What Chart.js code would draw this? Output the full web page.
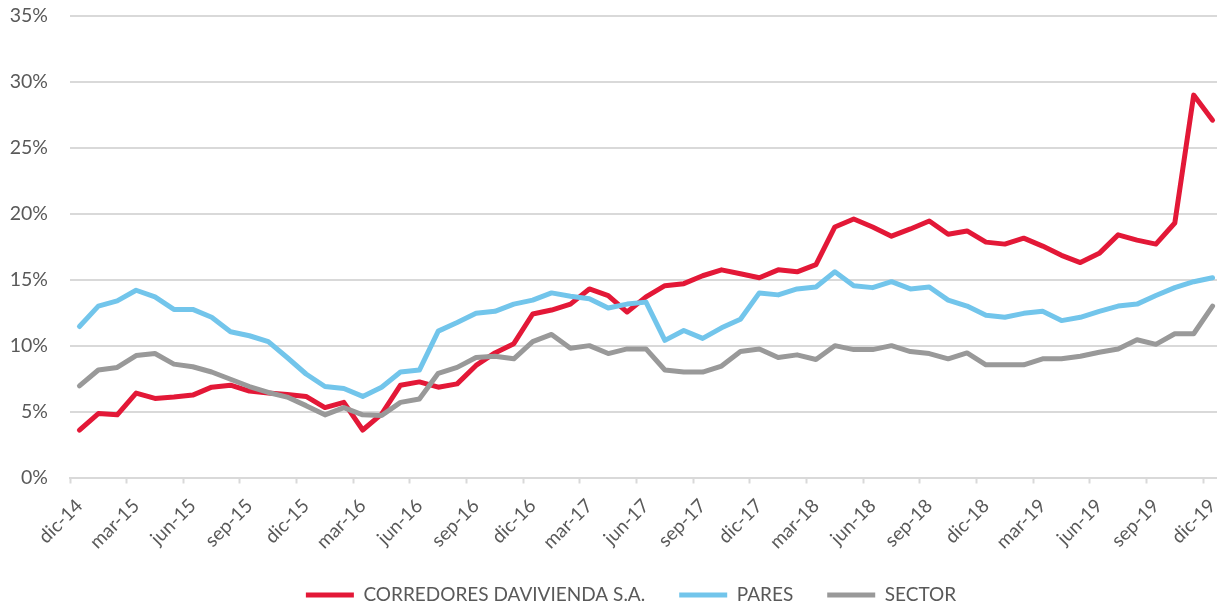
<!DOCTYPE html>
<html>
<head>
<meta charset="utf-8">
<script src="https://cdn.jsdelivr.net/npm/chart.js@4.4.1/dist/chart.umd.min.js"></script>
<style>
  html, body { margin: 0; padding: 0; background: #fff; overflow: hidden; }
  #wrap { position: absolute; left: 0; top: 0; width: 1222px; height: 607px; }
</style>
</head>
<body>
<div id="wrap"><canvas id="chart"></canvas></div>
<script>
// Months (monthly data, dic-14 .. dic-19)
const months = [
  "dic-14",
  "ene-15", "feb-15", "mar-15", "abr-15", "may-15", "jun-15", "jul-15", "ago-15", "sep-15", "oct-15", "nov-15", "dic-15",
  "ene-16", "feb-16", "mar-16", "abr-16", "may-16", "jun-16", "jul-16", "ago-16", "sep-16", "oct-16", "nov-16", "dic-16",
  "ene-17", "feb-17", "mar-17", "abr-17", "may-17", "jun-17", "jul-17", "ago-17", "sep-17", "oct-17", "nov-17", "dic-17",
  "ene-18", "feb-18", "mar-18", "abr-18", "may-18", "jun-18", "jul-18", "ago-18", "sep-18", "oct-18", "nov-18", "dic-18",
  "ene-19", "feb-19", "mar-19", "abr-19", "may-19", "jun-19", "jul-19", "ago-19", "sep-19", "oct-19", "nov-19", "dic-19"
];

// Series values (%)
const corredores = [
  3.6, 4.85, 4.75, 6.4, 6.0, 6.1, 6.25, 6.85, 7.0, 6.55, 6.4, 6.3, 6.15,
  5.3, 5.7, 3.6, 4.8, 7.0, 7.25, 6.85, 7.1, 8.5, 9.45, 10.15, 12.4,
  12.7, 13.15, 14.3, 13.8, 12.55, 13.7, 14.55, 14.7, 15.3, 15.75, 15.45, 15.15,
  15.75, 15.6, 16.15, 19.0, 19.6, 19.0, 18.3, 18.85, 19.45, 18.45, 18.7, 17.85,
  17.7, 18.15, 17.55, 16.85, 16.3, 17.0, 18.4, 18.0, 17.7, 19.3, 29.0, 27.1
];
const pares = [
  11.45, 13.0, 13.4, 14.2, 13.7, 12.75, 12.75, 12.15, 11.05, 10.75, 10.3, 9.1, 7.85,
  6.9, 6.75, 6.15, 6.85, 8.0, 8.15, 11.1, 11.75, 12.45, 12.6, 13.15, 13.45,
  14.0, 13.75, 13.55, 12.85, 13.15, 13.3, 10.4, 11.15, 10.55, 11.35, 12.0, 14.0,
  13.85, 14.3, 14.45, 15.6, 14.55, 14.4, 14.85, 14.3, 14.45, 13.45, 13.0, 12.3,
  12.15, 12.45, 12.6, 11.9, 12.15, 12.6, 13.0, 13.15, 13.8, 14.4, 14.85, 15.15
];
const sector = [
  6.95, 8.15, 8.35, 9.25, 9.4, 8.6, 8.4, 8.0, 7.45, 6.9, 6.45, 6.1, 5.45,
  4.75, 5.3, 4.75, 4.7, 5.7, 5.95, 7.9, 8.35, 9.1, 9.2, 9.0, 10.3,
  10.85, 9.8, 10.0, 9.4, 9.75, 9.75, 8.15, 8.0, 8.0, 8.45, 9.55, 9.75,
  9.1, 9.3, 8.95, 10.0, 9.7, 9.7, 10.0, 9.55, 9.4, 9.0, 9.45, 8.55,
  8.55, 8.55, 9.0, 9.0, 9.2, 9.5, 9.75, 10.45, 10.1, 10.9, 10.9, 13.0
];

// Y axis range (%)
const yMin = 0;
const yMax = 35;
const yStep = 5;

const textColor = "#595959";
const gridColor = "#d9d9d9";

Chart.defaults.font.family = "Lato, 'Open Sans', sans-serif";
Chart.defaults.color = textColor;

function lineSet(label, data, color, order) {
  return {
    label: label,
    data: data,
    borderColor: color,
    backgroundColor: color,
    borderWidth: 5,
    borderJoinStyle: "round",
    borderCapStyle: "round",
    pointRadius: 0,
    tension: 0,
    order: order
  };
}

const ctx = document.getElementById("chart").getContext("2d");

new Chart(ctx, {
  type: "line",
  data: {
    labels: months,
    datasets: [
      lineSet("CORREDORES DAVIVIENDA S.A.", corredores, "#e31837", 3),
      lineSet("PARES", pares, "#72c5eb", 2),
      lineSet("SECTOR", sector, "#999999", 1)
    ]
  },
  options: {
    responsive: true,
    maintainAspectRatio: false,
    animation: false,
    // negative right padding only widens the legend box so it centres like the original
    layout: { padding: { left: 0, right: -40, top: 16, bottom: -7.5 } },
    plugins: {
      tooltip: { enabled: false },
      legend: {
        position: "bottom",
        labels: {
          boxWidth: 48,
          boxHeight: 5,
          padding: 34,
          useBorderRadius: true,
          borderRadius: 2.5,
          font: { size: 19 },
          color: textColor,
          generateLabels: (chart) => chart.data.datasets.map((ds, i) => ({
            text: ds.label,
            fillStyle: ds.borderColor,
            strokeStyle: ds.borderColor,
            lineWidth: 0,
            fontColor: textColor,
            datasetIndex: i,
            hidden: false
          }))
        }
      }
    },
    scales: {
      x: {
        offset: true,
        border: { display: true, color: gridColor, width: 2 },
        grid: {
          display: true,
          offset: true,
          drawOnChartArea: false,
          drawTicks: true,
          tickLength: 6,
          tickWidth: 2,
          tickColor: (c) => (c.index % 3 === 0 ? gridColor : "rgba(0,0,0,0)")
        },
        ticks: {
          autoSkip: false,
          maxRotation: 45,
          minRotation: 45,
          padding: 11,
          color: textColor,
          font: { size: 19 },
          callback: (v, i) => (i % 3 === 0 ? months[i] : "")
        },
        afterFit: (scale) => {
          scale.height = 74;
          scale.paddingLeft = 0;
          scale.paddingRight = 0;
        }
      },
      y: {
        min: yMin,
        max: yMax,
        border: { display: false },
        grid: { color: gridColor, lineWidth: 2, drawTicks: false },
        ticks: {
          stepSize: yStep,
          padding: 22,
          color: textColor,
          font: { size: 19.5 },
          callback: (v) => v + "%"
        },
        afterFit: (scale) => {
          scale.width = 70;
          scale.paddingTop = 0;
          scale.paddingBottom = 0;
        }
      }
    }
  }
});
</script>
</body>
</html>
